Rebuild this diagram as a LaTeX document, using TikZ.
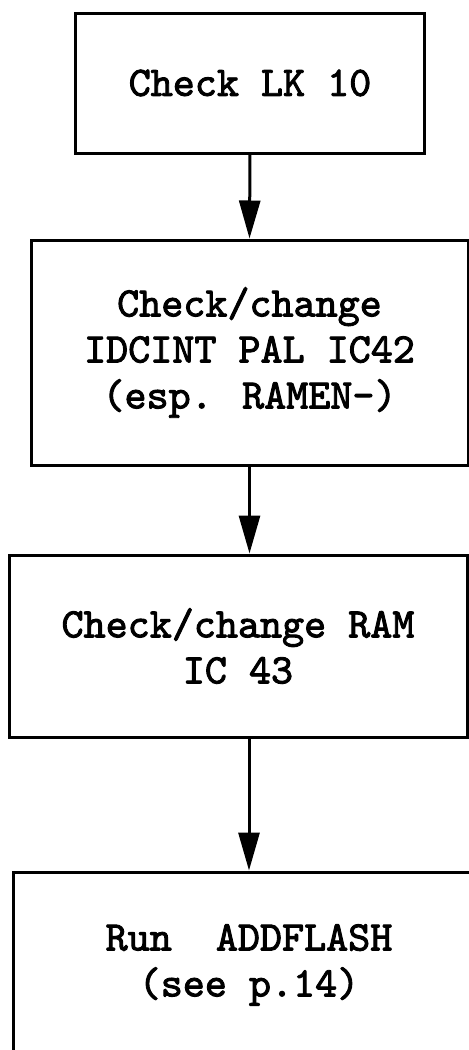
\documentclass[tikz,border=0pt]{standalone}
\usepackage{fontspec}
\newfontfamily\boxfont{lmmono10-regular}[Extension=.otf, FakeBold=2.2]
\usepackage{tikz}
\usetikzlibrary{arrows.meta}

\begin{document}
\begin{tikzpicture}[
    x=0.5pt, y=-0.5pt,
    stepbox/.style={rectangle, draw, line width=1.5pt, align=center, inner sep=0pt, font=\fontsize{21}{23}\boxfont\bfseries},
    arrow/.style={-{Triangle[length=19pt, width=10.5pt]}, line width=1.5pt}
]
\clip (0,0) rectangle (469,1050);
\node[stepbox, minimum width=174.5pt, minimum height=70pt] (lk) at (250,83) {Check LK 10};
\node[stepbox, minimum width=218.5pt, minimum height=112.5pt] (pal) at (249.5,352.5) {Check/change\\IDCINT PAL IC42\\(esp. RAMEN-)};
\node[stepbox, minimum width=229pt, minimum height=91pt] (ram) at (238,646) {Check/change RAM\\IC 43};
\node[stepbox, minimum width=236pt, minimum height=93pt] (run) at (249,965) {Run~~ADDFLASH\\(see p.14)};

\draw[arrow] (lk.south) -- (pal.north);
\draw[arrow] (pal.south) -- (pal.south |- ram.north);
\draw[arrow] (run.north |- ram.south) -- (run.north);
\end{tikzpicture}
\end{document}
